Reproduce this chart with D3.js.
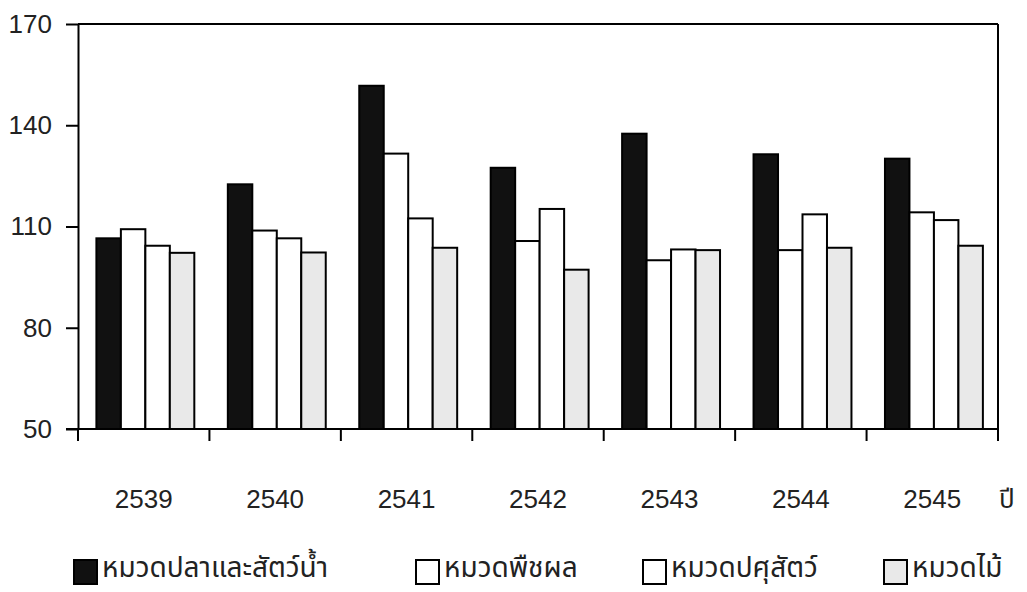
<!DOCTYPE html>
<html>
<head>
<meta charset="utf-8">
<script src="https://cdn.jsdelivr.net/npm/d3@7"></script>
<style>
  html, body { margin: 0; padding: 0; background: #fff; }
  svg { display: block; }
</style>
</head>
<body>
<svg id="chart" width="1027" height="592"></svg>
<script>
const years = ["2539", "2540", "2541", "2542", "2543", "2544", "2545"];
const seriesNames = ["หมวดปลาและสัตว์น้ำ", "หมวดพืชผล", "หมวดปศุสัตว์", "หมวดไม้"];
const fishValues      = [106.5, 122.5, 151.7, 127.4, 137.5, 131.4, 130.1];
const fruitValues     = [109.2, 108.8, 131.6, 105.7, 100.0, 103.0, 114.2];
const livestockValues = [104.3, 106.5, 112.4, 115.2, 103.2, 113.6, 111.9];
const woodValues      = [102.2, 102.3, 103.7,  97.2, 103.0, 103.7, 104.3];
const yTicks = [50, 80, 110, 140, 170];
const xUnit = "ปี";

const seriesValues = [fishValues, fruitValues, livestockValues, woodValues];
const fills = ["#111111", "#ffffff", "#ffffff", "#e9e9e9"];

const svg = d3.select("#chart");
const W = 1027, H = 592;
const L = 78, R = 998, T = 24, B = 429;
const numFont = "'Liberation Sans', Arial, Helvetica, sans-serif";
const thaiFont = "'Noto Sans Thai', 'Noto Sans Thai Looped', 'Loma', 'Garuda', 'Tlwg Typist', 'Noto Sans', sans-serif";

const x0 = d3.scaleBand().domain(years).range([L, R]).padding(0);
const bw = x0.bandwidth();
const x1 = d3.scaleBand().domain(seriesNames).range([bw * 0.14, bw * 0.885]).padding(0);
const y = d3.scaleLinear().domain([50, 170]).range([B, T]);

// bars
const groups = svg.append("g").selectAll("g")
  .data(years)
  .join("g")
  .attr("transform", d => `translate(${x0(d)},0)`);

groups.selectAll("rect")
  .data((d, i) => seriesNames.map((s, j) => ({ s, j, v: seriesValues[j][i] })))
  .join("rect")
  .attr("x", d => x1(d.s))
  .attr("y", d => y(d.v))
  .attr("width", x1.bandwidth())
  .attr("height", d => y(50) - y(d.v))
  .attr("fill", d => fills[d.j])
  .attr("stroke", "#000")
  .attr("stroke-width", 2);

// y axis
const yAxis = svg.append("g")
  .attr("transform", `translate(${L},0)`)
  .call(d3.axisLeft(y).tickValues(yTicks).tickSize(12).tickSizeOuter(0).tickPadding(14));
yAxis.select(".domain").attr("stroke", "#000").attr("stroke-width", 2);
yAxis.selectAll(".tick line").attr("stroke", "#000").attr("stroke-width", 2);
yAxis.selectAll(".tick text")
  .attr("font-family", numFont)
  .attr("font-size", 26)
  .attr("fill", "#222");

// top and right frame lines
svg.append("line").attr("x1", L).attr("x2", R).attr("y1", y(170)).attr("y2", y(170))
  .attr("stroke", "#000").attr("stroke-width", 2);
svg.append("line").attr("x1", R).attr("x2", R).attr("y1", y(170)).attr("y2", y(50))
  .attr("stroke", "#000").attr("stroke-width", 2);

// x axis baseline
svg.append("line").attr("x1", L - 12).attr("x2", R).attr("y1", y(50)).attr("y2", y(50))
  .attr("stroke", "#000").attr("stroke-width", 2);

// x ticks at band boundaries
const boundaries = years.map(d => x0(d)).concat([x0.range()[1]]);
svg.append("g").selectAll("line")
  .data(boundaries)
  .join("line")
  .attr("x1", d => d).attr("x2", d => d)
  .attr("y1", y(50)).attr("y2", y(50) + 12)
  .attr("stroke", "#000").attr("stroke-width", 2);

// x labels
svg.append("g").selectAll("text")
  .data(years)
  .join("text")
  .attr("x", d => x0(d) + bw / 2)
  .attr("y", 508)
  .attr("text-anchor", "middle")
  .attr("font-family", numFont)
  .attr("font-size", 26)
  .attr("fill", "#222")
  .text(d => d);

svg.append("text")
  .attr("x", R + 1)
  .attr("y", 508)
  .attr("font-family", thaiFont)
  .attr("font-size", 26)
  .attr("fill", "#222")
  .text(xUnit);

// legend
const legendSquareX = [73, 415, 642, 883];
const legend = svg.append("g").selectAll("g")
  .data(seriesNames)
  .join("g")
  .attr("transform", (d, i) => `translate(${legendSquareX[i]},560)`);
legend.append("rect")
  .attr("x", 1).attr("y", 0)
  .attr("width", 23).attr("height", 24)
  .attr("fill", (d, i) => fills[i])
  .attr("stroke", "#000")
  .attr("stroke-width", 2);
const legendText = legend.append("text")
  .attr("x", 29)
  .attr("y", 21)
  .attr("font-family", thaiFont)
  .attr("font-size", 28)
  .attr("fill", "#222")
  .text(d => d);

// keep the legend text box inside the picture
let maxBottom = 0;
legendText.each(function () {
  const b = this.getBBox();
  maxBottom = Math.max(maxBottom, 560 + b.y + b.height);
});
if (maxBottom > H - 2) {
  const shift = maxBottom - (H - 2);
  legendText.attr("y", 21 - shift);
}
</script>
</body>
</html>
